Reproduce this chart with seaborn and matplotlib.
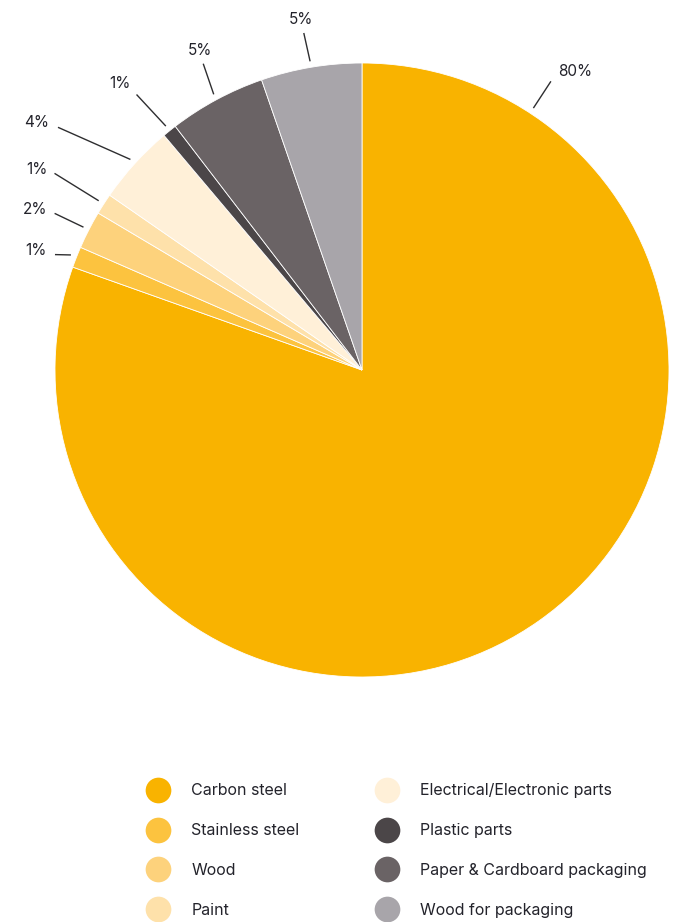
import numpy as np
import matplotlib
matplotlib.use("Agg")
import matplotlib.pyplot as plt
import seaborn as sns
from matplotlib.lines import Line2D

# ---- data ----
categories = ["Carbon steel", "Stainless steel", "Wood", "Paint",
              "Electrical/Electronic parts", "Plastic parts",
              "Paper & Cardboard packaging", "Wood for packaging"]
values = [80.4, 1.1, 2.0, 1.1, 4.2, 0.75, 5.1, 5.3]
pct_labels = ["80%", "1%", "2%", "1%", "4%", "1%", "5%", "5%"]
colors = ["#F9B300", "#FCC33F", "#FDD27C", "#FEE1AA", "#FFF0D8",
          "#4B4648", "#6A6365", "#A8A5AA"]

# ---- styling / layout ----
sns.set_theme(style="white")
plt.rcParams["font.family"] = ["Inter", "DejaVu Sans"]
TEXT = "#23232b"

W, H = 680, 922
cx, cy, R = 362, 370, 307  # pie centre / radius in pixels (from top-left)

fig = plt.figure(figsize=(W / 100, H / 100), dpi=100)
ax = fig.add_axes([0, 0, 1, 1])

wedges, _ = ax.pie(values, colors=colors, startangle=90, counterclock=False,
                   radius=1, center=(0, 0),
                   wedgeprops=dict(linewidth=0.6, edgecolor="white"))
ax.set_xlim(-cx / R, (W - cx) / R)
ax.set_ylim(-(H - cy) / R, cy / R)
ax.set_aspect("equal")
ax.axis("off")

# leader-line layout (angles counter-clockwise from 12 o'clock, radii in pixels)
end_angle = [-33.2, 69.4, 63.0, 57.4, 51.4, 39.3, 27.4, 9.8]
end_rad = [345, 328, 345, 365, 389, 356, 345, 342]
txt_off = [(7, 10), (-8, 4), (-7, 4), (-7, 4), (-9, 5), (-6, 11), (-3, 13), (-3, 13)]
txt_ha = ["left", "right", "right", "right", "right", "right", "center", "center"]

for i, w in enumerate(wedges):
    mid = 0.5 * (w.theta1 + w.theta2)
    if i == 0:
        mid = 90 + end_angle[0]
    a0 = np.deg2rad(mid)
    r0 = 313 / R
    x0, y0 = r0 * np.cos(a0), r0 * np.sin(a0)
    a1 = np.deg2rad(90 + end_angle[i])
    r1 = end_rad[i] / R
    x1, y1 = r1 * np.cos(a1), r1 * np.sin(a1)
    ax.plot([x0, x1], [y0, y1], color="#2e2e30", lw=1.0, clip_on=False,
            solid_capstyle="butt")
    ax.annotate(pct_labels[i], xy=(x1, y1), xytext=txt_off[i],
                textcoords="offset pixels", ha=txt_ha[i], va="center",
                fontsize=11, color=TEXT, annotation_clip=False)

# ---- legend (two columns) ----
handles = [Line2D([0], [0], marker="o", linestyle="none", markersize=18.5,
                  markerfacecolor=c, markeredgewidth=0) for c in colors]
common = dict(frameon=False, loc="center left", borderpad=0, borderaxespad=0,
              handlelength=1.6, handletextpad=1.3, labelspacing=1.55,
              fontsize=11.5, labelcolor=TEXT)
leg1 = fig.legend(handles[:4], categories[:4],
                  bbox_to_anchor=(145 / W, 1 - 850.5 / H), **common)
leg2 = fig.legend(handles[4:], categories[4:],
                  bbox_to_anchor=(374 / W, 1 - 850.5 / H), **common)

fig.savefig("out.png", dpi=100)
